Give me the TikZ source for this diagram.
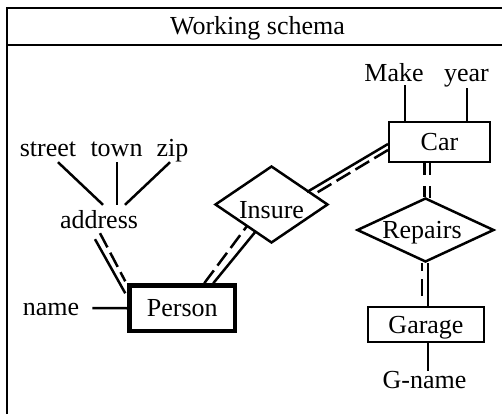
\documentclass[tikz,border=0pt]{standalone}
\usepackage{fontspec}
\setmainfont{Liberation Serif}
\usetikzlibrary{shapes.geometric,calc}
\begin{document}
\begin{tikzpicture}[x=1pt,y=-1pt,
  every node/.style={font=\fontsize{26}{30}\selectfont},
  lbl/.style={inner sep=0pt, text height=17pt, text depth=0pt, anchor=base},
  ent/.style={draw, line width=2pt, inner sep=0pt, text height=17pt, text depth=0pt},
  rel/.style={draw, diamond, line width=2.5pt, inner sep=0pt},
  conn/.style={line width=2.5pt},
  dsh/.style={line width=2.5pt, dash pattern=on 16pt off 6pt}]
\useasboundingbox (0,0) rectangle (502,414);
% frame
\draw[line width=1.8pt] (7,414) -- (7,8) -- (502,8);
\draw[line width=2.5pt] (7,45) -- (502,45);
\node[lbl] (title) at (257.5,35) {Working schema};
% entities
\node[ent, line width=4.5pt, minimum width=105.5pt, minimum height=45.5pt] (person) at (182.25,308.25) {Person};
\node[ent, minimum width=101pt, minimum height=40pt] (car) at (439.5,142) {Car};
\node[ent, minimum width=116pt, minimum height=35pt] (garage) at (426,324.5) {Garage};
% relationships
\node[rel, minimum width=113pt, minimum height=77pt] (insure) at (271.5,204.5) {};
\node[lbl] (insuretxt) at (271.5,218) {Insure};
\node[rel, minimum width=137pt, minimum height=64pt] (repairs) at (425.5,230) {};
\node[lbl] (repairstxt) at (422,238) {Repairs};
% attributes
\node[lbl] (street) at (48,157) {street};
\node[lbl] (town) at (116.5,157) {town};
\node[lbl] (zip) at (172.5,157) {zip};
\node[lbl] (address) at (99,228) {address};
\node[lbl] (name) at (51,315) {name};
\node[lbl] (make) at (394,82) {Make};
\node[lbl] (year) at (466.5,82) {year};
\node[lbl] (gname) at (424.5,388) {G-name};
% attribute connectors
\draw[conn] ($(street.south)+(10,5)$) -- ($(address.north)+(4,-6)$);
\draw[conn] ($(town.south)+(0.5,5)$) -- ($(address.north)+(18,-6)$);
\draw[conn] ($(zip.south)+(-2.5,5)$) -- ($(address.north)+(26,-6)$);
\draw[conn] ($(name.east)+(13,1.5)$) -- (person.west);
\draw[conn] ($(make.south)+(11,3)$) -- ($(car.north)+(-34.5,0)$);
\draw[conn] ($(year.south)+(0.5,6)$) -- ($(car.north)+(27.5,0)$);
\draw[conn] ($(garage.south)+(2,0)$) -- ($(gname.north)+(3.5,0)$);
% address - person
\draw[conn] ($(address.south)+(-4,11)$) -- ($(person.north west)+(-2,10)$);
\draw[dsh] ($(address.south)+(1,5)$) -- ($(person.north west)+(-2,-2)$);
% person - insure
\draw[conn] ($(person.north)+(31,0)$) -- ($(insure.center)+(-15.5,26.5)$);
\draw[dsh] ($(person.north)+(22,0)$) -- ($(insure.center)+(-24.5,21.5)$);
% car - insure
\draw[conn] ($(car.west)+(0,2)$) -- ($(insure.center)+(35.5,-12.5)$);
\draw[dsh] ($(car.west)+(0,8)$) -- ($(insure.center)+(41,-9.2)$);
% car - repairs
\draw[conn, dash pattern=on 12pt off 11pt] ($(car.south)+(-15,0)$) -- ($(repairs.north)+(-1,0)$);
\draw[conn, dash pattern=on 12pt off 11pt] ($(car.south)+(-9.5,0)$) -- ($(repairs.north)+(4.5,2)$);
% repairs - garage
\draw[conn] ($(repairs.south)+(2.5,0)$) -- ($(garage.north)+(2,0)$);
\draw[conn, dash pattern=on 8pt off 8pt on 17pt off 20pt] ($(repairs.south)+(-3.5,0)$) -- ($(garage.north)+(-4,0)$);
\end{tikzpicture}
\end{document}
